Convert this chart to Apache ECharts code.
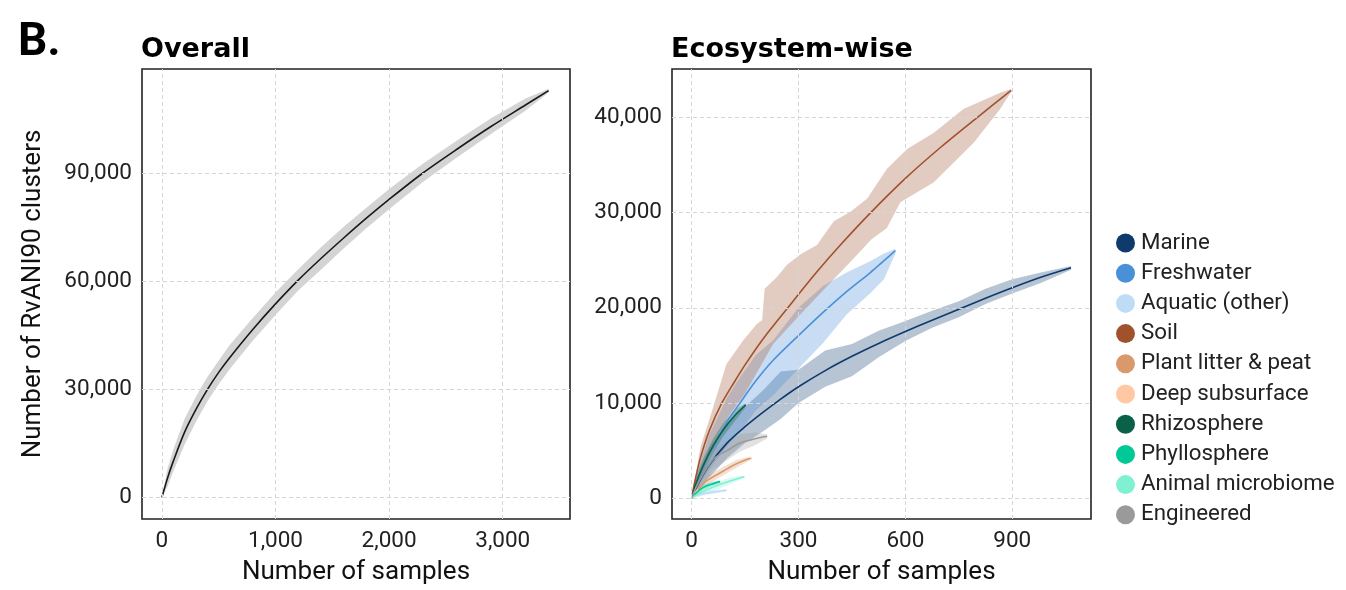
<!DOCTYPE html>
<html><head><meta charset="utf-8">
<script src="https://cdn.jsdelivr.net/npm/echarts@6/dist/echarts.min.js"></script>
<style>html,body{margin:0;padding:0;background:#fff}#c{width:1346px;height:590px}</style>
</head><body><div id="c"></div>
<script>
// ---------- tick labels ----------
const ovXTicks = [0, 1000, 2000, 3000];
const ovYTicks = [0, 30000, 60000, 90000];
const ecoXTicks = [0, 300, 600, 900];
const ecoYTicks = [0, 10000, 20000, 30000, 40000];

// ---------- Overall ----------
const ovX    = [0, 50, 100, 200, 300, 400, 500, 600, 800, 1000, 1200, 1400, 1600, 1800, 2000, 2300, 2600, 2900, 3200, 3404];
const ovMean = [0, 5400, 10000, 18100, 24400, 29900, 34700, 38900, 46600, 53700, 60300, 66300, 72000, 77500, 82700, 90100, 96700, 103000, 108900, 112900];
const ovHigh = [0, 8000, 13200, 21800, 28000, 33400, 38000, 42400, 49800, 56900, 63300, 69400, 75100, 80400, 85600, 92700, 99100, 105300, 110700, 113400];
const ovLow  = [0, 3000, 7200, 14700, 21000, 26600, 31400, 35700, 43500, 50600, 57400, 63200, 69100, 74700, 80000, 87600, 94400, 100900, 107300, 112400];

// ---------- Ecosystem-wise ----------
const ecoNames = ['Marine', 'Freshwater', 'Aquatic (other)', 'Soil', 'Plant litter & peat', 'Deep subsurface', 'Rhizosphere', 'Phyllosphere', 'Animal microbiome', 'Engineered'];
const ecoColors = ['#0e3a6c', '#4a90d9', '#bfdcf6', '#a0522d', '#d9996b', '#ffc8a2', '#0a6147', '#00c896', '#80f0d2', '#9a9a9a'];

const marineX    = [0, 20, 50, 100, 150, 200, 250, 300, 375, 450, 525, 600, 675, 750, 825, 900, 980, 1065];
const marineMean = [0, 1600, 3500, 5800, 7500, 9000, 10400, 11700, 13400, 14900, 16250, 17500, 18700, 19850, 21000, 22100, 23200, 24200];
const marineHigh = [0, 2600, 5300, 7900, 9600, 11300, 13300, 13500, 15500, 16200, 17600, 18600, 19700, 20700, 22000, 23000, 23700, 24400];
const marineLow  = [0, 800, 2200, 4200, 5800, 7000, 8300, 10000, 11700, 12800, 14800, 16500, 17900, 19000, 20400, 21500, 22600, 24000];

const freshX    = [0, 10, 20, 50, 100, 136, 180, 229, 300, 369, 435, 501, 540, 572];
const freshMean = [0, 1100, 2200, 4700, 8060, 10000, 12300, 14480, 17080, 19510, 21700, 23680, 24950, 26000];
const freshHigh = [0, 1800, 3300, 6700, 10600, 12700, 15000, 16600, 20000, 22300, 23700, 24900, 25700, 26200];
const freshLow  = [0, 500, 1200, 3000, 5500, 7000, 9200, 10800, 13600, 16300, 19300, 21500, 23000, 25700];

const aquaX    = [0, 10, 40, 70, 98];
const aquaMean = [0, 250, 500, 680, 830];
const aquaHigh = [0, 450, 750, 900, 950];
const aquaLow  = [0, 100, 300, 480, 700];

const soilX     = [0, 10, 25, 50, 85, 120, 150, 200, 270, 350, 420, 500, 600, 700, 805, 897];
const soilMean  = [0, 1900, 4250, 7100, 10000, 12200, 14000, 16700, 20000, 23700, 26700, 29900, 33600, 36900, 40100, 42850];
const soilHighX = [0, 25, 51, 98, 145, 183, 198, 205, 239, 267, 305, 352, 399, 446, 493, 548, 605, 680, 763, 866, 897];
const soilHigh  = [0, 5400, 8400, 14100, 16600, 18300, 18700, 22000, 23200, 24500, 25600, 26600, 29100, 30100, 31500, 34600, 36700, 38400, 40900, 42600, 43000];
const soilLowX  = [0, 25, 50, 100, 150, 229, 305, 389, 450, 505, 548, 586, 680, 793, 866, 897];
const soilLow   = [0, 2700, 5000, 8400, 11000, 16200, 19300, 22600, 25000, 27200, 28400, 31100, 33200, 37400, 40900, 42700];

const plantX    = [0, 15, 42, 89, 126, 168];
const plantMean = [0, 800, 1800, 2840, 3600, 4230];
const plantHigh = [0, 1200, 2300, 3300, 4000, 4400];
const plantLow  = [0, 450, 1350, 2400, 3200, 4050];

const deepX    = [0, 8, 18];
const deepMean = [0, 500, 900];
const deepHigh = [0, 700, 1100];
const deepLow  = [0, 300, 700];

const rhizoX    = [0, 10, 32, 60, 89, 122, 152];
const rhizoMean = [0, 1300, 3360, 5450, 7190, 8700, 9790];
const rhizoHigh = [0, 2000, 4100, 6200, 7900, 9300, 10000];
const rhizoLow  = [0, 700, 2600, 4700, 6500, 8100, 9550];

const phylloX    = [0, 10, 32, 55, 80];
const phylloMean = [0, 450, 1100, 1450, 1730];
const phylloHigh = [0, 750, 1400, 1700, 1850];
const phylloLow  = [0, 200, 800, 1200, 1600];

const animalX    = [0, 20, 60, 108, 148];
const animalMean = [0, 450, 1150, 1800, 2250];
const animalHigh = [0, 800, 1550, 2150, 2400];
const animalLow  = [0, 150, 750, 1450, 2100];

const engX    = [0, 20, 60, 100, 136, 175, 212];
const engMean = [0, 1700, 4060, 5000, 5790, 6200, 6490];
const engHigh = [0, 2700, 5100, 6000, 6700, 6900, 6700];
const engLow  = [0, 800, 3000, 4000, 4900, 5500, 6250];

// [lineX, mean, lowX, low, highX, high]
const ecoData = [
  [marineX, marineMean, marineX, marineLow, marineX, marineHigh],
  [freshX, freshMean, freshX, freshLow, freshX, freshHigh],
  [aquaX, aquaMean, aquaX, aquaLow, aquaX, aquaHigh],
  [soilX, soilMean, soilLowX, soilLow, soilHighX, soilHigh],
  [plantX, plantMean, plantX, plantLow, plantX, plantHigh],
  [deepX, deepMean, deepX, deepLow, deepX, deepHigh],
  [rhizoX, rhizoMean, rhizoX, rhizoLow, rhizoX, rhizoHigh],
  [phylloX, phylloMean, phylloX, phylloLow, phylloX, phylloHigh],
  [animalX, animalMean, animalX, animalLow, animalX, animalHigh],
  [engX, engMean, engX, engLow, engX, engHigh]
];

// ---------- helpers ----------
function hexA(hex, a) {
  const n = parseInt(hex.slice(1), 16);
  return 'rgba(' + ((n >> 16) & 255) + ',' + ((n >> 8) & 255) + ',' + (n & 255) + ',' + a + ')';
}
function fmt(v) { return String(v).replace(/\B(?=(\d{3})+(?!\d))/g, ','); }

function bandSeries(name, g, loX, lo, hiX, hi, fill) {
  return {
    type: 'custom', name: name, xAxisIndex: g, yAxisIndex: g, silent: true, z: 1,
    data: [[loX[0], lo[0]]],
    renderItem: function (params, api) {
      const pts = [];
      for (let i = 0; i < hiX.length; i++) pts.push(api.coord([hiX[i], hi[i]]));
      for (let i = loX.length - 1; i >= 0; i--) pts.push(api.coord([loX[i], lo[i]]));
      return { type: 'polygon', shape: { points: pts }, style: { fill: fill, stroke: null } };
    }
  };
}
function lineSeries(name, g, xs, ys, color, width) {
  return {
    type: 'line', name: name, xAxisIndex: g, yAxisIndex: g, silent: true, z: 3,
    data: xs.map((x, i) => [x, ys[i]]),
    showSymbol: false, symbol: 'none', smooth: 0.3,
    lineStyle: { color: color, width: width },
    itemStyle: { color: color }
  };
}
function gridLines(g, xt, yt) {
  return {
    type: 'line', name: 'grid' + g, xAxisIndex: g, yAxisIndex: g, silent: true, z: 0, data: [],
    markLine: {
      silent: true, symbol: ['none', 'none'], label: { show: false },
      lineStyle: { type: [4, 3], color: '#d6d6d6', width: 1 },
      emphasis: { disabled: true },
      data: xt.map(v => ({ xAxis: v })).concat(yt.map(v => ({ yAxis: v })))
    }
  };
}

const labelStyle = { fontSize: 22.5, color: '#222', fontFamily: 'Roboto' };
const nameStyle = { fontSize: 26, color: '#111', fontFamily: 'Roboto' };

const series = [gridLines(0, ovXTicks, ovYTicks), gridLines(1, ecoXTicks, ecoYTicks)];
series.push(bandSeries('Overall band', 0, ovX, ovLow, ovX, ovHigh, 'rgba(0,0,0,0.17)'));
series.push(lineSeries('Overall', 0, ovX, ovMean, '#1a1a1a', 1.6));
ecoData.forEach((d, i) => {
  series.push(bandSeries(ecoNames[i] + ' band', 1, d[2], d[3], d[4], d[5], hexA(ecoColors[i], 0.3)));
});
ecoData.forEach((d, i) => {
  series.push(lineSeries(ecoNames[i], 1, d[0], d[1], ecoColors[i], 1.6));
});

const option = {
  animation: false,
  backgroundColor: '#fff',
  title: [
    { text: 'B.', left: 13, top: 15, padding: 5, textStyle: { fontSize: 46, fontWeight: 'bold', fontFamily: 'Roboto', color: '#000' } },
    { text: 'Overall', left: 136, top: 31, padding: 5, textStyle: { fontSize: 27, fontWeight: 'bold', fontFamily: 'DejaVu Sans', color: '#000' } },
    { text: 'Ecosystem-wise', left: 666, top: 31, padding: 5, textStyle: { fontSize: 27, fontWeight: 'bold', fontFamily: 'DejaVu Sans', color: '#000' } }
  ],
  legend: {
    orient: 'vertical', left: 1111, top: 227, padding: 5,
    icon: 'circle', itemWidth: 19, itemHeight: 19, itemGap: 8.2,
    data: ecoNames, selectedMode: false,
    textStyle: { fontSize: 22.3, color: '#222', fontFamily: 'Roboto', padding: [0, 0, 0, 1] }
  },
  grid: [
    { left: 142, top: 69, width: 428, height: 454, show: true, borderColor: '#222', borderWidth: 1.6, backgroundColor: 'transparent', containLabel: false },
    { left: 672, top: 69, width: 419, height: 454, show: true, borderColor: '#222', borderWidth: 1.6, backgroundColor: 'transparent', containLabel: false }
  ],
  xAxis: [
    { type: 'value', gridIndex: 0, min: -175, max: 3592,
      axisLine: { show: false }, axisTick: { show: false }, splitLine: { show: false },
      axisLabel: Object.assign({ customValues: ovXTicks, formatter: fmt, margin: 11 }, labelStyle),
      name: 'Number of samples', nameLocation: 'middle', nameGap: 40, nameTextStyle: nameStyle },
    { type: 'value', gridIndex: 1, min: -55, max: 1121,
      axisLine: { show: false }, axisTick: { show: false }, splitLine: { show: false },
      axisLabel: Object.assign({ customValues: ecoXTicks, formatter: fmt, margin: 11 }, labelStyle),
      name: 'Number of samples', nameLocation: 'middle', nameGap: 40, nameTextStyle: nameStyle }
  ],
  yAxis: [
    { type: 'value', gridIndex: 0, min: -6000, max: 118900,
      axisLine: { show: false }, axisTick: { show: false }, splitLine: { show: false },
      axisLabel: Object.assign({ customValues: ovYTicks, formatter: fmt, margin: 10 }, labelStyle),
      name: 'Number of RvANI90 clusters', nameLocation: 'middle', nameRotate: 90, nameGap: 96, nameTextStyle: nameStyle },
    { type: 'value', gridIndex: 1, min: -2200, max: 45100,
      axisLine: { show: false }, axisTick: { show: false }, splitLine: { show: false },
      axisLabel: Object.assign({ customValues: ecoYTicks, formatter: fmt, margin: 10 }, labelStyle) }
  ],
  series: series
};

const chart = echarts.init(document.getElementById('c'), null, { renderer: 'canvas' });
chart.setOption(option);
</script>
</body></html>
